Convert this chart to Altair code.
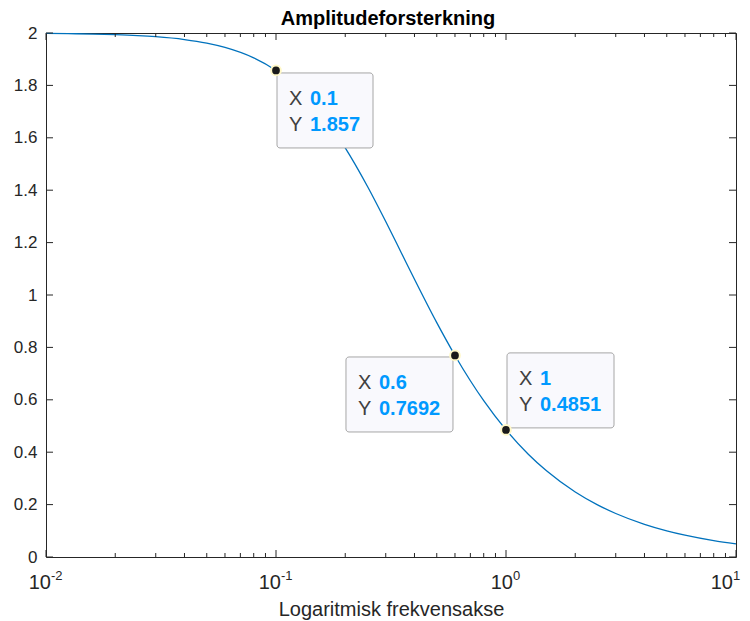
import altair as alt
import pandas as pd

# ---------------- data ----------------
freq = [0.01, 0.0125, 0.016, 0.02, 0.025, 0.03, 0.04, 0.05, 0.06, 0.08,
        0.1, 0.125, 0.15, 0.2, 0.25, 0.3, 0.35, 0.4, 0.5, 0.6, 0.7, 0.8,
        1.0, 1.25, 1.5, 2.0, 2.5, 3.0, 4.0, 5.0, 6.0, 8.0, 10.0]
amp = [1.9984, 1.9975, 1.9959, 1.9936, 1.9901, 1.9858, 1.9749, 1.9612, 1.9448, 1.9049,
       1.8570, 1.7889, 1.7150, 1.5617, 1.4142, 1.2804, 1.1625, 1.0600, 0.8944, 0.7692, 0.6727, 0.5965,
       0.4851, 0.3922, 0.3288, 0.2481, 0.1990, 0.1661, 0.1248, 0.0999, 0.0833, 0.0625, 0.0500]

tip_x = [0.1, 0.6, 1.0]
tip_y = [1.857, 0.7692, 0.4851]
tip_x_text = ["0.1", "0.6", "1"]
tip_y_text = ["1.857", "0.7692", "0.4851"]

title_text = "Amplitudeforsterkning"
x_title = "Logaritmisk frekvensakse"
y_ticks = [0, 0.2, 0.4, 0.6, 0.8, 1.0, 1.2, 1.4, 1.6, 1.8, 2.0]
x_major = [0.01, 0.1, 1, 10]
x_exp = ["-2", "-1", "0", "1"]
x_minor = [m * d for d in (0.01, 0.1, 1) for m in range(2, 10)]

# ---------------- layout / style ----------------
W, H = 690, 524
FONT = "Liberation Sans"
AX = "#262626"
MAJ, MIN = 7, 4
# datatip box offset (px) relative to its point: dx, dy, width
TIP_BOX = [(1, 2.5, 96), (-109, 1.5, 107), (1, -77, 107)]
TIP_H = 75
# x tick label: right end of "10" relative to tick, per label
XLAB_DX = [5, 5, 7, -3]

xs = alt.Scale(type="log", domain=[0.01, 10], nice=False)
ys = alt.Scale(domain=[0, 2], nice=False, zero=False)

XAX = alt.Axis(title=x_title, labels=False, ticks=False, domain=False,
               grid=False, titleFontSize=20, titleFont=FONT, titleFontWeight="normal",
               titleColor=AX, titleBaseline="alphabetic", titlePadding=58)
YAX = alt.Axis(values=y_ticks, format="~g", ticks=False, domain=False, grid=False,
               title=None, labelFontSize=17, labelFont=FONT, labelColor=AX,
               labelPadding=9, labelOverlap=False, labelFlush=False)


def X(f):
    return alt.X(f, scale=xs, axis=XAX)


def Y(f):
    return alt.Y(f, scale=ys, axis=YAX)


curve_df = pd.DataFrame({"f": freq, "a": amp})
line = alt.Chart(curve_df).mark_line(
    color="#0072BD", strokeWidth=1.3, interpolate="monotone"
).encode(x=X("f:Q"), y=Y("a:Q"))

layers = [line]

# inward ticks
xmaj_df = pd.DataFrame({"v": x_major})
xmin_df = pd.DataFrame({"v": x_minor})
ytk_df = pd.DataFrame({"v": y_ticks})
for df, ln in ((xmaj_df, MAJ), (xmin_df, MIN)):
    base = alt.Chart(df).mark_rule(color=AX, strokeWidth=1)
    layers.append(base.encode(x=X("v:Q"), y=alt.value(H), y2=alt.value(H - ln)))
    layers.append(base.encode(x=X("v:Q"), y=alt.value(0), y2=alt.value(ln)))
ybase = alt.Chart(ytk_df).mark_rule(color=AX, strokeWidth=1)
layers.append(ybase.encode(y=Y("v:Q"), x=alt.value(0), x2=alt.value(MAJ)))
layers.append(ybase.encode(y=Y("v:Q"), x=alt.value(W), x2=alt.value(W - MAJ)))

# x tick labels 10^n
for i, v in enumerate(x_major):
    d = pd.DataFrame({"v": [v], "e": [x_exp[i]], "b": ["10"]})
    layers.append(alt.Chart(d).mark_text(
        align="right", baseline="alphabetic", font=FONT, fontSize=20, color=AX,
        dx=XLAB_DX[i]).encode(x=X("v:Q"), y=alt.value(H + 32), text="b:N"))
    layers.append(alt.Chart(d).mark_text(
        align="left", baseline="alphabetic", font=FONT, fontSize=13, color=AX,
        dx=XLAB_DX[i]).encode(x=X("v:Q"), y=alt.value(H + 23), text="e:N"))

# datatips
for i in range(len(tip_x)):
    bx, by, bw = TIP_BOX[i]
    d = pd.DataFrame({"x": [tip_x[i]], "y": [tip_y[i]],
                      "xt": [tip_x_text[i]], "yt": [tip_y_text[i]]})
    enc = dict(x=X("x:Q"), y=Y("y:Q"))
    layers.append(alt.Chart(d).mark_rect(
        fill="#f9f9fd", stroke="#a6a6a6", strokeWidth=1, cornerRadius=3,
        xOffset=bx, x2Offset=bx + bw, yOffset=by, y2Offset=by + TIP_H
    ).encode(x2=alt.X2("x"), y2=alt.Y2("y"), **enc))
    for row, (lab, fld) in enumerate((("X", "xt"), ("Y", "yt"))):
        dy = by + 32 + 26 * row
        layers.append(alt.Chart(d).mark_text(
            align="left", baseline="alphabetic", font=FONT, fontSize=20,
            color="#404040", dx=bx + 12, dy=dy).encode(text=alt.value(lab), **enc))
        layers.append(alt.Chart(d).mark_text(
            align="left", baseline="alphabetic", font=FONT, fontSize=20,
            fontWeight="bold", color="#0099ff", dx=bx + 33, dy=dy
        ).encode(text=alt.Text(f"{fld}:N"), **enc))

tips_df = pd.DataFrame({"x": tip_x, "y": tip_y})
layers.append(alt.Chart(tips_df).mark_point(
    filled=True, fill="#1a1a1a", stroke="#fff8c8", strokeWidth=2, size=95, opacity=1
).encode(x=X("x:Q"), y=Y("y:Q")))

# chart title as text
tdf = pd.DataFrame({"t": [title_text]})
layers.append(alt.Chart(tdf).mark_text(
    align="center", baseline="alphabetic", font=FONT, fontSize=20,
    fontWeight="bold", color="black"
).encode(x=alt.value(W / 2 - 3), y=alt.value(-8), text="t:N"))

chart = alt.layer(*layers).properties(
    width=W, height=H,
    padding={"left": 46, "top": 33, "right": 14, "bottom": 64},
    autosize=alt.AutoSizeParams(type="none"),
    background="white",
).configure_view(stroke=AX, strokeWidth=1)

chart.save("out.html", embed_options={"renderer": "svg", "actions": False})
